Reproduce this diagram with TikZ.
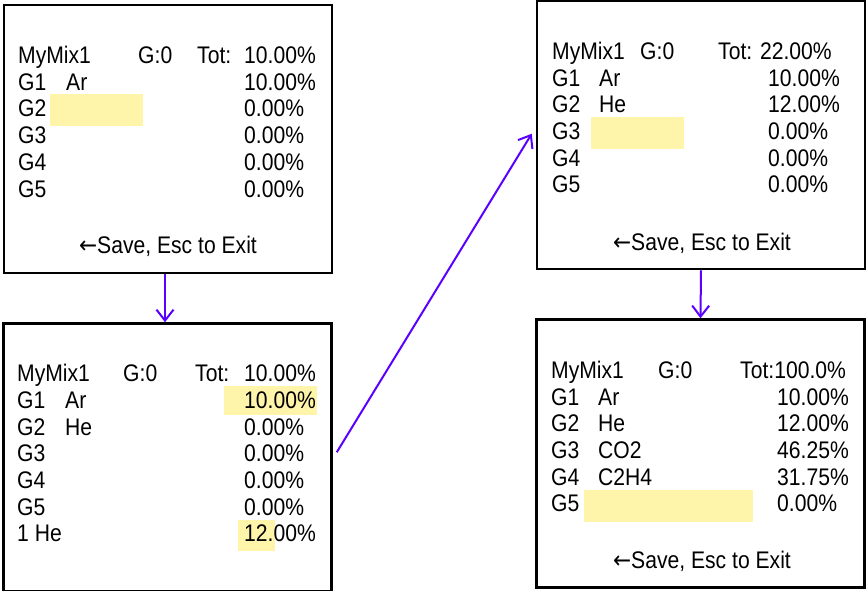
\documentclass[tikz,border=0pt]{standalone}
\usepackage{fontspec}
\setmainfont{Liberation Sans}[FakeStretch=0.88]
\newfontfamily\arrowglyph{DejaVu Sans}[FakeStretch=0.9]
\usetikzlibrary{arrows.meta,calc}
\definecolor{arrowc}{RGB}{90,0,255}
\definecolor{hilite}{RGB}{255,245,170}
\newcommand{\savetxt}{{\arrowglyph ←}Save, Esc to Exit}
\tikzset{
  screen/.style={draw=black,line width=2.5pt,fill=white,rectangle,inner sep=0pt,minimum width=328pt,minimum height=268pt},
  txt/.style={anchor=base west,inner sep=0pt,font=\fontsize{24}{28}\selectfont},
  ctxt/.style={anchor=base,inner sep=0pt,font=\fontsize{24}{28}\selectfont},
  hl/.style={fill=hilite,draw=none},
  flow/.style={draw=arrowc,line width=2pt,-{Straight Barb[length=11pt,width=17pt,line width=2pt]}}
}
\begin{document}
\begin{tikzpicture}[x=1pt,y=-1pt]
\useasboundingbox (0,0) rectangle (867,590);
\clip (0,0) rectangle (867,590);
% boxes
\node[screen] (b1) at (168,139) {};
\node[screen] (b2) at (167.5,457.5) {};
\node[screen] (b3) at (701,135) {};
\node[screen] (b4) at (700.5,453.5) {};
% highlights
\fill[hl] (50,94) rectangle (143,126);
\fill[hl] (224,386) rectangle (317,415);
\fill[hl] (238,520) rectangle (275,551);
\fill[hl] (591,117) rectangle (684,149);
\fill[hl] (584,490) rectangle (753,522);
% box 1
\node[txt] (a1) at (18,63.5) {MyMix1};
\node[txt] (a2) at (138,63.5) {G:0};
\node[txt] (a3) at (197,63.5) {Tot:};
\node[txt] (a4) at (244,63.5) {10.00\%};
\node[txt] (a5) at (18,90.2) {G1};
\node[txt] (a6) at (66,90.2) {Ar};
\node[txt] (a7) at (244,90.2) {10.00\%};
\node[txt] (a8) at (18,116.9) {G2};
\node[txt] (a9) at (244,116.9) {0.00\%};
\node[txt] (a10) at (18,143.6) {G3};
\node[txt] (a11) at (244,143.6) {0.00\%};
\node[txt] (a12) at (18,170.3) {G4};
\node[txt] (a13) at (244,170.3) {0.00\%};
\node[txt] (a14) at (18,197) {G5};
\node[txt] (a15) at (244,197) {0.00\%};
\node[ctxt] (a16) at (168,253) {\savetxt};
% box 2
\node[txt] (c1) at (17,381.7) {MyMix1};
\node[txt] (c2) at (123,381.7) {G:0};
\node[txt] (c3) at (195,381.7) {Tot:};
\node[txt] (c4) at (244,381.7) {10.00\%};
\node[txt] (c5) at (17,408.3) {G1};
\node[txt] (c6) at (65,408.3) {Ar};
\node[txt] (c7) at (244,408.3) {10.00\%};
\node[txt] (c8) at (17,435) {G2};
\node[txt] (c9) at (65,435) {He};
\node[txt] (c10) at (244,435) {0.00\%};
\node[txt] (c11) at (17,461.7) {G3};
\node[txt] (c12) at (244,461.7) {0.00\%};
\node[txt] (c13) at (17,488.3) {G4};
\node[txt] (c14) at (244,488.3) {0.00\%};
\node[txt] (c15) at (17,515) {G5};
\node[txt] (c16) at (244,515) {0.00\%};
\node[txt] (c17) at (17,541.7) {1 He};
\node[txt] (c18) at (244,541.7) {12.00\%};
% box 3
\node[txt] (d1) at (552,59.3) {MyMix1};
\node[txt] (d2) at (640,59.3) {G:0};
\node[txt] (d3) at (718,59.3) {Tot: 22.00\%};
\node[txt] (d4) at (552,86) {G1};
\node[txt] (d5) at (599,86) {Ar};
\node[txt] (d6) at (768,86) {10.00\%};
\node[txt] (d7) at (552,112.7) {G2};
\node[txt] (d8) at (599,112.7) {He};
\node[txt] (d9) at (768,112.7) {12.00\%};
\node[txt] (d10) at (552,139.3) {G3};
\node[txt] (d11) at (768,139.3) {0.00\%};
\node[txt] (d12) at (552,166) {G4};
\node[txt] (d13) at (768,166) {0.00\%};
\node[txt] (d14) at (552,192.7) {G5};
\node[txt] (d15) at (768,192.7) {0.00\%};
\node[ctxt] (d16) at (702,250) {\savetxt};
% box 4
\node[txt] (e1) at (551,378.3) {MyMix1};
\node[txt] (e2) at (658,378.3) {G:0};
\node[txt] (e3) at (740,378.3) {Tot:100.0\%};
\node[txt] (e4) at (551,405) {G1};
\node[txt] (e5) at (598,405) {Ar};
\node[txt] (e6) at (777,405) {10.00\%};
\node[txt] (e7) at (551,431.7) {G2};
\node[txt] (e8) at (598,431.7) {He};
\node[txt] (e9) at (777,431.7) {12.00\%};
\node[txt] (e10) at (551,458.3) {G3};
\node[txt] (e11) at (598,458.3) {CO2};
\node[txt] (e12) at (777,458.3) {46.25\%};
\node[txt] (e13) at (551,485) {G4};
\node[txt] (e14) at (598,485) {C2H4};
\node[txt] (e15) at (777,485) {31.75\%};
\node[txt] (e16) at (551,511.7) {G5};
\node[txt] (e17) at (777,511.7) {0.00\%};
\node[ctxt] (e18) at (702,568) {\savetxt};
% arrows
\draw[flow] ($(b1.south)+(-3,0)$) -- ($(b2.north)+(-2.5,0)$);
\draw[flow] ($(b2.north east)+(4,130)$) -- ($(b3.north west)+(-4,134)$);
\draw[flow] (b3.south) -- (b4.north);
\end{tikzpicture}
\end{document}
